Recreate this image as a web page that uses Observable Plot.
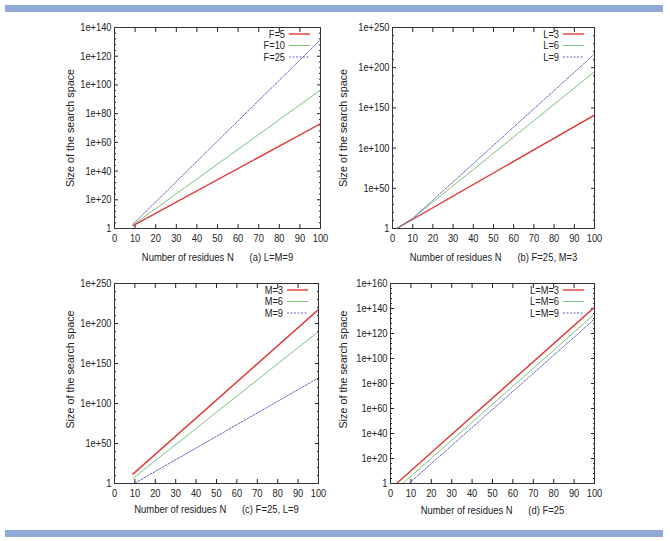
<!DOCTYPE html>
<html><head><meta charset="utf-8">
<script src="https://cdn.jsdelivr.net/npm/d3@7"></script>
<script src="https://cdn.jsdelivr.net/npm/@observablehq/plot@0.6"></script>
<style>
html,body{margin:0;padding:0;background:#fff;}
#wrap{position:relative;width:670px;height:541px;overflow:hidden;background:#fff;}
.bar{position:absolute;background:#8fa9d8;}
.panel{position:absolute;}
</style></head><body>
<div id="wrap">
<div class="bar" style="left:5px;top:5px;width:658px;height:7px"></div>
<div class="bar" style="left:5px;top:530px;width:658px;height:7px"></div>
</div>
<script>
// ---------- data ----------
const xTicks = [0, 10, 20, 30, 40, 50, 60, 70, 80, 90, 100];

// (a) L=M=9
const aN = [9, 100];
const aF5 = [1e2, 1e73];
const aF10 = [3e2, 3e96];
const aF25 = [1e3, 3e131];
const aLabels = ["F=5", "F=10", "F=25"];

// (b) F=25, M=3
const bN3 = [2, 100];            const bL3 = [1, 1e141];
const bN6 = [2, 10, 100];        const bL6 = [1, 3e12, 1e195];
const bN9 = [2, 10, 20, 100];    const bL9 = [1, 3e12, 2e35, 1e217];
const bLabels = ["L=3", "L=6", "L=9"];

// (c) F=25, L=9
const cN3 = [9, 100];  const cM3 = [5e11, 3e217];
const cN6 = [9, 100];  const cM6 = [2e6, 1e190];
const cN9 = [10, 100]; const cM9 = [3, 1e132];
const cLabels = ["M=3", "M=6", "M=9"];

// (d) F=25
const dN3 = [3, 100]; const dLM3 = [1, 1e141];
const dN6 = [6, 100]; const dLM6 = [1, 3e135];
const dN9 = [9, 100]; const dLM9 = [1, 3e131];
const dLabels = ["L=M=3", "L=M=6", "L=M=9"];

const aMajor = [0,20,40,60,80,100,120,140];
const bMajor = [0,50,100,150,200,250];
const dMajor = [0,20,40,60,80,100,120,140,160];

// ---------- styling ----------
const colors = ["#e03a3a", "#7cc27c", "#6464c0"];
const widths = [1.4, 1, 1];
const dashes = [null, null, "2,1.5"];
const FONT = "'Liberation Sans', Arial, Helvetica, sans-serif";
const NB = "\u00a0";
const SQUEEZE = 0.86; // the reference's horizontal text is slightly condensed

function pts(ns, vs) { return ns.map((n, i) => ({N: n, v: vs[i]})); }
function range(a, b, s) { const r = []; for (let v = a; v <= b + 1e-9; v += s) r.push(v); return r; }

function panel(o) {
  const W = 335, H = 270;
  const major = o.major.map(e => Math.pow(10, e));
  const minor = range(0, o.major[o.major.length - 1], o.minorStep)
    .filter(e => !o.major.includes(e)).map(e => Math.pow(10, e));
  const fmt = d => d === 1 ? "1" : "1e+" + Math.round(Math.log10(d));
  const marks = [
    Plot.axisX(xTicks, {anchor: "bottom", tickSize: -4, tickFormat: () => "", label: null}),
    Plot.axisX(xTicks, {anchor: "top", tickSize: -4, tickFormat: () => "", label: null}),
    Plot.axisX(xTicks, {anchor: "bottom", tickSize: 0, tickPadding: 6, label: null}),
    Plot.axisY(major, {anchor: "left", tickSize: -4, tickFormat: () => "", label: null}),
    Plot.axisY(major, {anchor: "right", tickSize: -4, tickFormat: () => "", label: null}),
    Plot.axisY(minor, {anchor: "left", tickSize: -2, tickFormat: () => "", label: null}),
    Plot.axisY(minor, {anchor: "right", tickSize: -2, tickFormat: () => "", label: null}),
    Plot.axisY(major, {anchor: "left", tickSize: 0, tickPadding: 3, tickFormat: fmt, label: null}),
    ...o.series.map((s, i) => Plot.line(s, {x: "N", y: "v", stroke: colors[i], strokeWidth: widths[i], strokeDasharray: dashes[i], clip: true})),
    Plot.frame({stroke: "#333", strokeWidth: 1}),
    Plot.text([o.xlabel], {frameAnchor: "bottom", dy: o.xlabDy, text: d => d, fill: "#222", textAnchor: "middle", lineAnchor: "middle", fontSize: 11}),
    Plot.text(["Size of the search space"], {frameAnchor: "left", dx: o.ylabDx, dy: o.ylabDy, rotate: -90, text: d => d, fill: "#222", textAnchor: "middle", lineAnchor: "middle", fontSize: 10.8})
  ];
  const svg = Plot.plot({
    width: W, height: H,
    marginLeft: o.ml, marginRight: o.mr, marginTop: o.mt, marginBottom: o.mb,
    x: {domain: [0, 100]},
    y: {type: "log", domain: [1, Math.pow(10, o.major[o.major.length - 1])]},
    style: {fontFamily: FONT, fontSize: "10.8px", color: "#222", background: "transparent"},
    marks
  });
  // condense horizontal texts around their anchor points
  d3.select(svg).selectAll("text").each(function() {
    const t = this.getAttribute("transform") || "";
    if (!t.includes("rotate") && this.textContent !== "") this.setAttribute("transform", t + ` scale(${SQUEEZE},1)`);
  });
  // legend (gnuplot-style key, top right inside the frame)
  const R = W - o.mr, T = o.mt;
  const g = d3.select(svg).append("g").attr("font-family", FONT).attr("font-size", "10.8px");
  o.labels.forEach((lab, i) => {
    const yy = T + 7 + i * 11.5;
    g.append("text").attr("transform", `translate(${R - 35},${yy}) scale(${SQUEEZE},1)`)
      .attr("text-anchor", "end").attr("dy", "0.35em").attr("fill", "#222").text(lab);
    g.append("line").attr("x1", R - 31).attr("x2", R - 10).attr("y1", yy).attr("y2", yy)
      .attr("stroke", colors[i]).attr("stroke-width", widths[i])
      .attr("stroke-dasharray", dashes[i]);
  });
  const div = document.createElement("div");
  div.className = "panel";
  div.style.left = o.left + "px"; div.style.top = o.top + "px";
  div.appendChild(svg);
  document.getElementById("wrap").appendChild(div);
}

const gap = NB.repeat(6);
panel({left: 0, top: 0, ml: 114, mr: 15, mt: 27, mb: 42, major: aMajor, minorStep: 4,
  series: [pts(aN, aF5), pts(aN, aF10), pts(aN, aF25)], labels: aLabels,
  xlabel: "Number of residues N" + gap + "(a) L=M=9", xlabDy: 29, ylabDx: -44, ylabDy: 0});
panel({left: 335, top: 0, ml: 57, mr: 76, mt: 27, mb: 42, major: bMajor, minorStep: 10,
  series: [pts(bN3, bL3), pts(bN6, bL6), pts(bN9, bL9)], labels: bLabels,
  xlabel: "Number of residues N" + gap + "(b) F=25, M=3", xlabDy: 29, ylabDx: -49, ylabDy: 0});
panel({left: 0, top: 270, ml: 114, mr: 17, mt: 13, mb: 57, major: bMajor, minorStep: 10,
  series: [pts(cN3, cM3), pts(cN6, cM6), pts(cN9, cM9)], labels: cLabels,
  xlabel: "Number of residues N" + gap + "(c) F=25, L=9", xlabDy: 26, ylabDx: -44, ylabDy: -14});
panel({left: 335, top: 270, ml: 55, mr: 76, mt: 13, mb: 57, major: dMajor, minorStep: 4,
  series: [pts(dN3, dLM3), pts(dN6, dLM6), pts(dN9, dLM9)], labels: dLabels,
  xlabel: "Number of residues N" + gap + "(d) F=25", xlabDy: 27, ylabDx: -47, ylabDy: -14});
</script>
</body></html>
